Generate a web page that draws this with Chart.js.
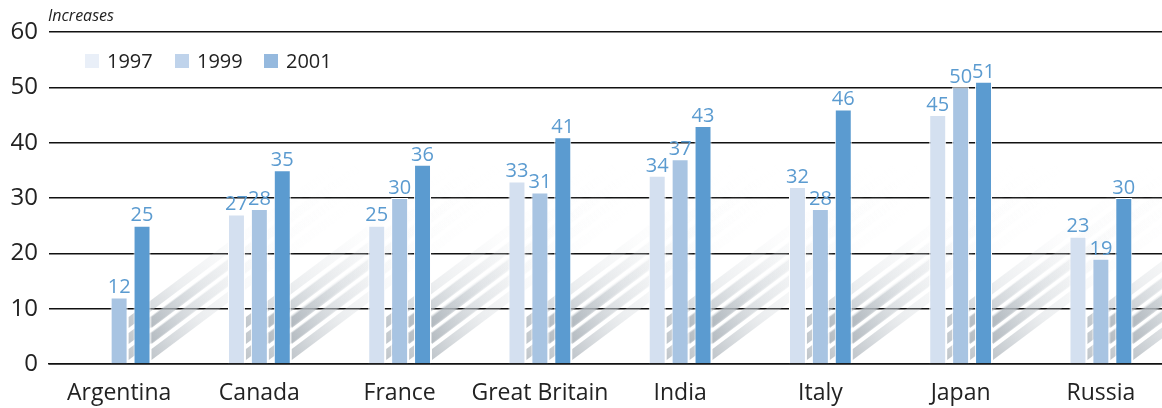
<!DOCTYPE html>
<html>
<head>
<meta charset="utf-8">
<script src="https://cdn.jsdelivr.net/npm/chart.js@4"></script>
<style>
  html, body { margin: 0; padding: 0; background: #fff; overflow: hidden; }
  #wrap { width: 1171px; height: 408px; }
</style>
</head>
<body>
<div id="wrap"><canvas id="myChart"></canvas></div>
<script>
"use strict";

// data
const countries = ['Argentina', 'Canada', 'France', 'Great Britain', 'India', 'Italy', 'Japan', 'Russia'];
const years = ['1997', '1999', '2001'];
const values1997 = [null, 27, 25, 33, 34, 32, 45, 23];
const values1999 = [12, 28, 30, 31, 37, 28, 50, 19];
const values2001 = [25, 35, 36, 41, 43, 46, 51, 30];
const yTicks = [0, 10, 20, 30, 40, 50, 60];

const barColors = ['#d4e0f0', '#a8c4e2', '#5b9bd0'];
const legendColors = ['#e9eff8', '#bfd3eb', '#95b9de'];
const FONT = '"Open Sans", "Noto Sans", sans-serif';

// diagonal "shadow" stripes behind each bar
const shadowPlugin = {
  id: 'shadows',
  beforeDatasetsDraw(chart) {
    const ctx = chart.ctx;
    const area = chart.chartArea;
    const base = chart.scales.y.getPixelForValue(0);
    ctx.save();
    ctx.beginPath();
    ctx.rect(area.left, area.top, area.right - area.left, area.bottom - area.top);
    ctx.clip();
    chart.data.datasets.forEach((ds, di) => {
      chart.getDatasetMeta(di).data.forEach((bar, i) => {
        if (ds.data[i] == null) return;
        const x0 = bar.x + bar.width / 2 + 1;
        const len = 210, slope = 0.75;
        for (let k = 0; k < 3; k++) {
          const yb = base - 4 - k * 16;
          const yt = yb - 11;
          const g = ctx.createLinearGradient(x0, yb, x0 + len, yb - len * slope);
          g.addColorStop(0, 'rgba(165,173,180,0.7)');
          g.addColorStop(0.25, 'rgba(200,206,211,0.35)');
          g.addColorStop(0.55, 'rgba(228,231,234,0.1)');
          g.addColorStop(1, 'rgba(240,242,244,0)');
          ctx.fillStyle = g;
          ctx.beginPath();
          ctx.moveTo(x0, yb);
          ctx.lineTo(x0, yt);
          ctx.lineTo(x0 + len, yt - len * slope);
          ctx.lineTo(x0 + len, yb - len * slope);
          ctx.closePath();
          ctx.fill();
        }
      });
    });
    ctx.restore();
  }
};

// value labels, legend and unit text
const textPlugin = {
  id: 'texts',
  afterDatasetsDraw(chart) {
    const ctx = chart.ctx;
    ctx.save();
    ctx.font = '20px ' + FONT;
    ctx.fillStyle = '#5b9bd0';
    ctx.textAlign = 'center';
    ctx.textBaseline = 'bottom';
    chart.data.datasets.forEach((ds, di) => {
      chart.getDatasetMeta(di).data.forEach((bar, i) => {
        if (ds.data[i] == null) return;
        ctx.fillText(String(ds.data[i]), bar.x, bar.y);
      });
    });

    // legend
    const lx = [85, 175, 264];
    ctx.font = '20px ' + FONT;
    ctx.textAlign = 'left';
    ctx.textBaseline = 'middle';
    years.forEach((y, i) => {
      ctx.fillStyle = legendColors[i];
      ctx.fillRect(lx[i], 54, 14, 14);
      ctx.fillStyle = '#222';
      ctx.fillText(y, lx[i] + 22, 62);
    });

    ctx.font = 'italic 16px ' + FONT;
    ctx.textBaseline = 'alphabetic';
    ctx.fillText('Increases', 48, 21);
    ctx.restore();
  }
};

const config = {
  type: 'bar',
  data: {
    labels: countries,
    datasets: [values1997, values1999, values2001].map((d, i) => ({
      label: years[i],
      data: d,
      backgroundColor: barColors[i],
      borderColor: '#ffffff',
      borderWidth: 1,
      borderSkipped: 'bottom',
      barPercentage: 0.74,
      categoryPercentage: 0.49
    }))
  },
  options: {
    responsive: true,
    maintainAspectRatio: false,
    animation: false,
    layout: { padding: { top: 32, right: 0, left: 0, bottom: 0 } },
    scales: {
      x: {
        grid: { display: false },
        border: { display: true, color: '#111', width: 1.5 },
        ticks: {
          color: '#222', font: { family: FONT, size: 23 }, padding: 8,
          maxRotation: 0, minRotation: 0, autoSkip: false
        },
        afterFit(s) { s.height = 44; }
      },
      y: {
        min: 0, max: 60,
        afterBuildTicks(s) { s.ticks = yTicks.map(v => ({ value: v })); },
        grid: { color: '#111', lineWidth: 1.5, drawTicks: false },
        border: { display: false },
        ticks: { color: '#222', font: { family: FONT, size: 24 }, padding: 11 },
        afterFit(s) { s.width = 49; }
      }
    },
    plugins: {
      legend: { display: false },
      tooltip: { enabled: false }
    }
  },
  plugins: [shadowPlugin, textPlugin]
};

const my_chart = new Chart(document.getElementById('myChart'), config);
</script>
</body>
</html>
